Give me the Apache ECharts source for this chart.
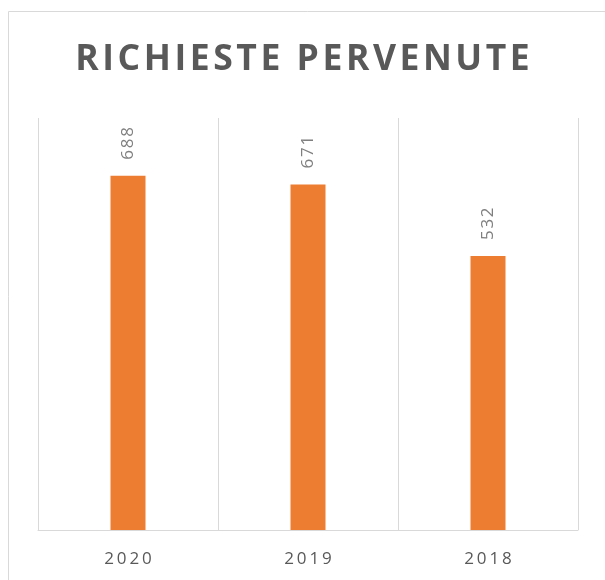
<!DOCTYPE html>
<html><head><meta charset="utf-8">
<script src="https://cdn.jsdelivr.net/npm/echarts@6/dist/echarts.min.js"></script>
<style>html,body{margin:0;padding:0;background:#fff}#c{width:605px;height:580px}</style>
</head><body><div id="c"></div>
<script>
const categories = ['2020', '2019', '2018'];
const values = [688, 671, 532];
const titleText = 'RICHIESTE PERVENUTE';

const spaced = (s, sp) => s.split('').join(sp);

const chart = echarts.init(document.getElementById('c'));
chart.setOption({
  animation: false,
  title: {
    text: spaced(titleText, '\u200A'), left: 'center', top: 37,
    textStyle: { fontFamily: 'Open Sans', fontWeight: 'bold', fontSize: 35.5, color: '#595959' }
  },
  graphic: [{
    type: 'rect', shape: { x: 8.5, y: 11.5, width: 700, height: 700 },
    style: { fill: 'none', stroke: '#d9d9d9', lineWidth: 1 }, silent: true
  }],
  grid: { left: 38, right: 27, top: 118, bottom: 50 },
  xAxis: {
    type: 'category', data: categories,
    axisLine: { lineStyle: { color: '#d9d9d9', width: 1 } },
    axisTick: { show: false },
    splitLine: { show: true, lineStyle: { color: '#d9d9d9', width: 1 } },
    axisLabel: { color: '#595959', fontSize: 17, fontFamily: 'Open Sans', margin: 21,
      formatter: v => spaced(v, '\u2009') }
  },
  yAxis: { type: 'value', min: 0, max: 800, show: false, splitLine: { show: false } },
  series: [{
    type: 'bar', data: values, barWidth: 35,
    itemStyle: { color: '#ED7D31' },
    label: { show: true, position: 'top', rotate: 90, align: 'left', verticalAlign: 'middle',
      distance: 16, color: '#7f7f7f', fontSize: 17, fontFamily: 'Open Sans',
      formatter: p => spaced(String(p.value), '\u200A') }
  }]
});
</script></body></html>
